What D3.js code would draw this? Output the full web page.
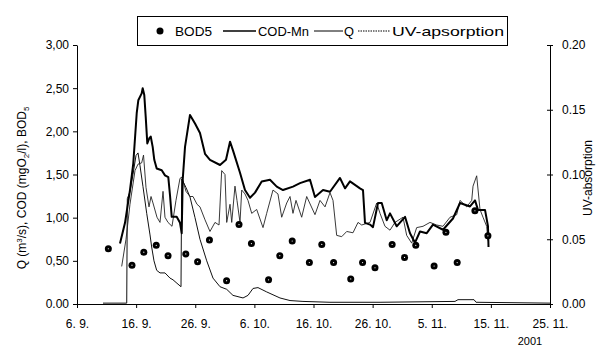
<!DOCTYPE html>
<html><head><meta charset="utf-8">
<script src="https://cdn.jsdelivr.net/npm/d3@7"></script>
<style>
html,body{margin:0;padding:0;background:#fff;}
svg{display:block;font-family:"Liberation Sans",Arial,sans-serif;}
</style></head>
<body><svg id="c" width="606" height="349"></svg>
<script>
// ---- data (days counted from 6. 9. 2001) ----
const xTickDays = [0,10,20,30,40,50,60,70,80];
const xTickLabels = ["6. 9.","16. 9.","26. 9.","6. 10.","16. 10.","26. 10.","5. 11.","15. 11.","25. 11."];
const leftTicks = [0,0.5,1,1.5,2,2.5,3];
const leftTickLabels = ["0.00","0,50","1,00","1,50","2,00","2,50","3,00"];
const rightTicks = [0,0.05,0.1,0.15,0.2];
const rightTickLabels = ["0.00","0.05","0.10","0.15","0.20"];
const legendLabels = ["BOD5","COD-Mn","Q","UV-apsorption"];

const bodDays = [5.3,9.3,11.3,13.4,15.4,18.4,20.4,22.4,25.3,27.4,29.5,32.4,34.3,36.4,39.3,41.4,43.4,46.3,48.3,50.4,53.3,55.4,57.3,60.4,62.4,64.3,67.3,69.5];
const bodValues = [0.64,0.45,0.60,0.68,0.56,0.58,0.49,0.74,0.27,0.92,0.70,0.28,0.56,0.73,0.48,0.69,0.48,0.29,0.48,0.42,0.69,0.54,0.68,0.44,0.83,0.48,1.08,0.79];

const codDays = [7.27,8.12,8.96,9.52,10.10,10.37,10.94,11.11,11.38,11.62,11.89,12.23,12.47,12.80,13.07,13.48,14.33,14.88,15.44,15.73,16.02,16.86,17.42,17.71,17.88,18.27,19.11,19.96,20.80,21.65,22.49,24.19,25.20,25.88,26.38,27.57,28.41,29.26,30.11,31.24,32.64,33.78,34.84,36.53,37.72,39.41,40.25,41.61,42.79,44.48,45.33,46.17,47.86,48.37,48.71,49.56,50.06,50.91,51.54,52.38,52.94,54.07,55.48,56.32,57.17,58.01,59.15,60.21,61.90,63.59,64.78,66.47,67.32,67.82,69.01,69.51,69.60];
const codValues = [0.70,0.94,1.32,1.63,2.21,2.36,2.44,2.50,2.42,2.17,1.86,1.92,1.94,1.82,1.67,1.57,1.55,1.49,1.47,1.26,1.01,1.01,0.94,0.82,1.44,1.82,2.19,2.09,1.98,1.74,1.67,1.61,1.67,1.88,1.78,1.52,1.32,1.23,1.29,1.42,1.44,1.36,1.32,1.36,1.40,1.44,1.24,1.32,1.30,1.46,1.34,1.42,1.34,1.32,0.94,0.92,0.89,1.17,1.17,0.97,1.05,0.90,1.01,0.82,0.71,0.84,0.82,0.92,0.86,0.99,1.17,1.13,1.20,1.09,1.09,0.90,0.66];

const qDays = [4.40,8.41,8.51,8.96,9.47,9.98,10.32,10.66,11.16,11.79,12.35,12.63,13.02,13.48,14.04,14.88,15.73,16.24,16.91,17.59,17.71,18.43,19.11,19.96,20.80,21.94,23.00,24.19,25.32,26.38,28.08,28.92,29.77,30.61,32.08,34.33,36.03,38.22,42.79,51.25,63.93,64.44,67.15,67.49,80];
const qValues = [0.01,0.01,1.22,1.30,1.50,1.72,1.75,1.60,1.36,1.05,0.80,0.66,0.50,0.39,0.36,0.36,0.30,0.28,0.24,0.20,1.45,1.35,1.24,1.00,0.75,0.50,0.30,0.20,0.17,0.10,0.07,0.10,0.18,0.19,0.14,0.07,0.04,0.03,0.02,0.02,0.03,0.05,0.05,0.02,0.01];

const uvDays = [7.56,8.29,8.96,9.81,10.32,10.94,11.25,11.67,12.18,12.52,12.85,13.53,14.04,14.55,14.88,15.39,16.07,16.74,17.42,17.76,18.43,19.11,19.62,20.30,20.80,21.65,22.49,23.34,24.02,24.47,25.03,25.32,25.88,26.17,26.72,27.06,27.57,27.86,28.41,28.92,29.55,30.39,31.46,32.08,33.15,33.99,34.62,35.47,36.03,36.53,37.04,38.00,38.85,40.25,41.10,41.95,42.79,43.30,43.92,44.77,45.62,46.68,47.53,48.15,49.56,50.69,51.25,52.09,52.94,53.78,55.14,55.76,56.61,57.45,58.52,59.70,60.84,61.90,63.09,64.22,64.78,65.91,66.76,66.98,67.60,68.16,68.67,69.29,69.51];
const uvValues = [0.029,0.050,0.077,0.103,0.108,0.109,0.115,0.090,0.075,0.083,0.078,0.067,0.063,0.087,0.067,0.063,0.060,0.080,0.097,0.098,0.087,0.083,0.083,0.077,0.075,0.065,0.056,0.063,0.061,0.103,0.100,0.063,0.077,0.063,0.091,0.080,0.063,0.088,0.085,0.080,0.070,0.073,0.059,0.070,0.088,0.085,0.067,0.078,0.083,0.070,0.080,0.067,0.083,0.069,0.080,0.075,0.086,0.080,0.053,0.052,0.056,0.055,0.063,0.061,0.063,0.078,0.070,0.060,0.057,0.063,0.067,0.053,0.047,0.059,0.060,0.063,0.061,0.060,0.067,0.069,0.080,0.075,0.080,0.091,0.099,0.073,0.067,0.060,0.049];

// ---- drawing ----
const svg = d3.select("#c");
const x = d3.scaleLinear().domain([0,80]).range([77,550]);
const yL = d3.scaleLinear().domain([0,3]).range([304,45]);
const yR = d3.scaleLinear().domain([0,0.2]).range([304,45]);
const zip = (a,b)=>a.map((d,i)=>[d,b[i]]);

const lineL = d3.line().x(d=>x(d[0])).y(d=>yL(d[1]));
const lineR = d3.line().x(d=>x(d[0])).y(d=>yR(d[1]));

svg.append("path").datum(zip(qDays,qValues)).attr("d",lineL)
  .attr("fill","none").attr("stroke","#111").attr("stroke-width",1);
svg.append("path").datum(zip(uvDays,uvValues)).attr("d",lineR)
  .attr("fill","none").attr("stroke","#222").attr("stroke-width",0.9);
svg.append("path").datum(zip(codDays,codValues)).attr("d",lineL)
  .attr("fill","none").attr("stroke","#000").attr("stroke-width",2).attr("stroke-linejoin","round");

const dots = svg.append("g").selectAll("g").data(zip(bodDays,bodValues)).join("g")
  .attr("transform",d=>`translate(${x(d[0])},${yL(d[1])})`);
dots.append("circle").attr("r",3.5).attr("fill","#000");
dots.append("circle").attr("r",0.6).attr("fill","#fff");

// axes
const fs = "12px";
const ax = svg.append("g").attr("transform","translate(0,304)")
  .call(d3.axisBottom(x).tickValues(xTickDays).tickFormat((d,i)=>xTickLabels[i]).tickSize(4).tickPadding(11).tickSizeOuter(0));
const al = svg.append("g").attr("transform","translate(77,0)")
  .call(d3.axisLeft(yL).tickValues(leftTicks).tickFormat((d,i)=>leftTickLabels[i]).tickSize(4).tickPadding(4).tickSizeOuter(0));
const ar = svg.append("g").attr("transform","translate(550,0)")
  .call(d3.axisRight(yR).tickValues(rightTicks).tickFormat((d,i)=>rightTickLabels[i]).tickSize(4).tickPadding(8).tickSizeOuter(0));
ar.selectAll(".tick line").attr("x1",-3).attr("x2",3);
[ax,al,ar].forEach(g=>{
  g.selectAll("text").attr("font-size",fs).attr("font-family","'Liberation Sans',Arial,sans-serif").attr("fill","#000");
  g.selectAll("line,path").attr("stroke","#000").attr("stroke-width",1);
});

svg.append("text").attr("x",530).attr("y",345).attr("text-anchor","middle")
  .attr("font-size","11px").text("2001");

// axis titles
const lt = svg.append("text").attr("transform","translate(26,188) rotate(-90)")
  .attr("text-anchor","middle").attr("font-size","12px");
lt.append("tspan").text("Q (m");
lt.append("tspan").attr("dy",-4).attr("font-size","8px").text("3");
lt.append("tspan").attr("dy",4).text("/s), COD (mgO");
lt.append("tspan").attr("dy",3).attr("font-size","8px").text("2");
lt.append("tspan").attr("dy",-3).text("/l), BOD");
lt.append("tspan").attr("dy",3).attr("font-size","8px").text("5");

svg.append("text").attr("transform","translate(592,178) rotate(-90)")
  .attr("text-anchor","middle").attr("font-size","12px").text("UV-absorption");

// legend
const lg = svg.append("g");
lg.append("rect").attr("x",137.5).attr("y",16.5).attr("width",370).attr("height",29)
  .attr("fill","#fff").attr("stroke","#000").attr("stroke-width",1);
const ly = 31;
const lfs = "13px";
lg.append("circle").attr("cx",160).attr("cy",ly).attr("r",3.5).attr("fill","#000");
lg.append("text").attr("x",175).attr("y",ly+4.5).attr("font-size",lfs)
  .attr("textLength",37).attr("lengthAdjust","spacingAndGlyphs").text(legendLabels[0]);
lg.append("line").attr("x1",223).attr("x2",256).attr("y1",ly).attr("y2",ly).attr("stroke","#000").attr("stroke-width",1.3);
lg.append("text").attr("x",258).attr("y",ly+4.5).attr("font-size",lfs)
  .attr("textLength",51).attr("lengthAdjust","spacingAndGlyphs").text(legendLabels[1]);
lg.append("line").attr("x1",314).attr("x2",343).attr("y1",ly).attr("y2",ly).attr("stroke","#000").attr("stroke-width",1);
lg.append("text").attr("x",344).attr("y",ly+4.5).attr("font-size",lfs)
  .attr("textLength",10).attr("lengthAdjust","spacingAndGlyphs").text(legendLabels[2]);
lg.append("line").attr("x1",358).attr("x2",390).attr("y1",ly).attr("y2",ly).attr("stroke","#000").attr("stroke-width",1).attr("stroke-dasharray","1.5,1");
lg.append("text").attr("x",392).attr("y",ly+4.5).attr("font-size",lfs)
  .attr("textLength",112).attr("lengthAdjust","spacingAndGlyphs").text(legendLabels[3]);
</script></body></html>
